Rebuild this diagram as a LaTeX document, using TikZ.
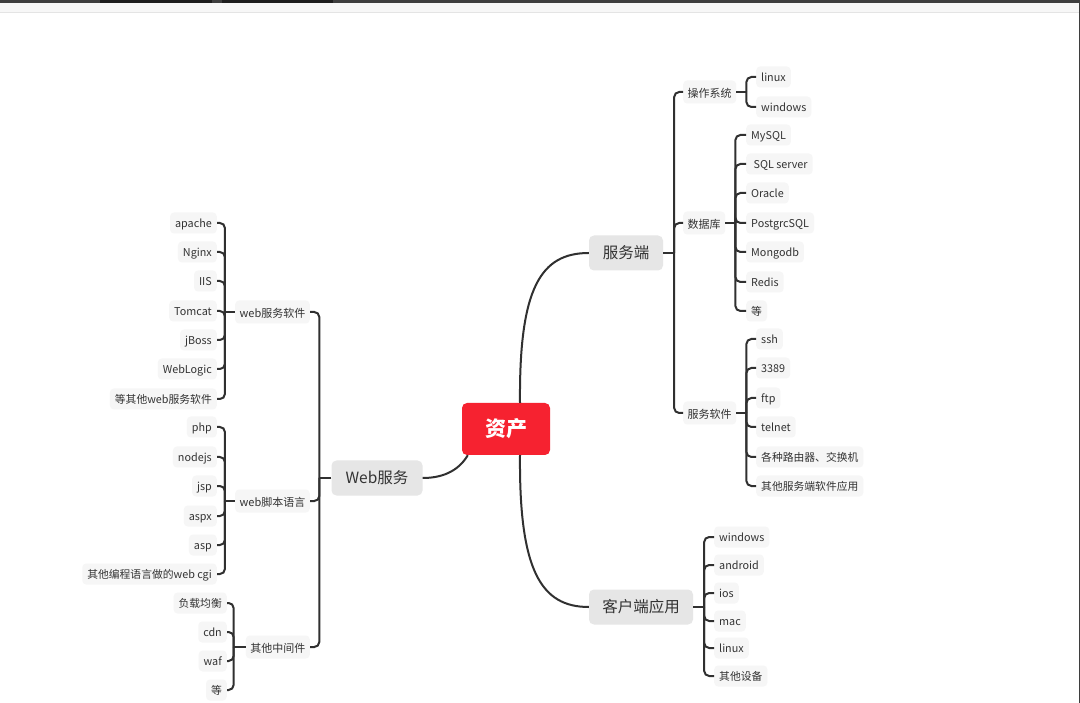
\documentclass[tikz,border=0pt]{standalone}
\usepackage{fontspec}
\setmainfont{Noto Sans CJK SC}
\usetikzlibrary{calc}
\definecolor{rootc}{RGB}{246,34,48}
\definecolor{topc}{RGB}{230,230,230}
\definecolor{leafc}{RGB}{246,246,246}
\definecolor{txt}{RGB}{51,51,51}
\definecolor{linec}{RGB}{48,48,48}
\definecolor{barc}{RGB}{62,62,62}
\definecolor{barblk}{RGB}{30,30,30}
\definecolor{bandc}{RGB}{247,247,247}
\definecolor{bandln}{RGB}{228,228,228}
\tikzset{
  leaf/.style={fill=leafc, rounded corners=4pt, inner xsep=5pt, inner ysep=0pt,
    minimum height=21pt, text=txt, font=\fontsize{10.8}{12}\selectfont,
    text height=10pt, text depth=0.5pt},
  midnode/.style={leaf, minimum height=23pt, inner xsep=4.5pt, font=\fontsize{11}{13}\selectfont,
    text height=10.5pt, text depth=0.3pt},
  topnode/.style={fill=topc, rounded corners=5pt, inner xsep=13pt, inner ysep=0pt,
    minimum height=35pt, text=txt, font=\fontsize{15.5}{18}\selectfont,
    text height=13.5pt, text depth=1.7pt},
  rootnode/.style={fill=rootc, rounded corners=5pt, minimum width=88pt, minimum height=52pt,
    text=white, font=\fontsize{21}{24}\selectfont\bfseries, inner sep=0pt},
  con/.style={draw=linec, line width=2pt},
  bar/.style={con, rounded corners=5pt},
}
\begin{document}
\begin{tikzpicture}[x=1pt,y=-1pt]
\useasboundingbox (0,0) rectangle (1080,703);
\fill[white] (0,0) rectangle (1080,703);
% screenshot frame
\fill[bandc] (0,3.5) rectangle (1080,12);
\draw[bandln, line width=0.8pt] (0,12.5) -- (1080,12.5);
\fill[barc] (0,0) rectangle (1080,3.5);
\fill[barblk] (100,0) rectangle (212,3.5);
\fill[barblk] (222,0) rectangle (333,3.5);
\fill[barc] (1078.5,0) rectangle (1080,703);

% root and first level
\node[rootnode] (root) at (506,429) {资产};
\node[topnode, minimum width=74pt] (srv) at (626,253) {服务端};
\node[topnode, minimum width=104pt] (cli) at (641,607) {客户端应用};
\node[topnode, minimum width=91pt] (web) at (377,478) {Web服务};

\coordinate (r1) at ($(root.north)+(14,0)$);
\coordinate (r2) at ($(root.south)+(14,0)$);
\coordinate (r3) at ($(root.south west)+(6,0)$);
\draw[con] (r1) .. controls ($(r1)+(-1,-115)$) and ($(srv.west)+(-48,0)$) .. (srv.west);
\draw[con] (r2) .. controls ($(r2)+(-1,115)$) and ($(cli.west)+(-48,0)$) .. (cli.west);
\draw[con] (r3) .. controls ($(r3)+(-10,17)$) and ($(web.east)+(18,0)$) .. (web.east);

% ---------- right: 服务端 ----------
\node[midnode, anchor=west] (os) at (683,92) {操作系统};
\node[midnode, anchor=west] (db) at (683,223) {数据库};
\node[midnode, anchor=west] (sw) at (683,413) {服务软件};
\coordinate (jsrv) at ($(srv.east)+(11,0)$);
\draw[con] (srv.east) -- (jsrv);
\foreach \n in {os,db,sw} \draw[bar] (jsrv) |- (\n.west);

% 操作系统
\node[leaf, anchor=west] (os1) at (756,77) {linux};
\node[leaf, anchor=west] (os2) at (756,107) {windows};
\coordinate (jos) at ($(os.east)+(10,0)$);
\draw[con] (os.east) -- (jos);
\foreach \n in {os1,os2} \draw[bar] (jos) |- (\n.west);

% 数据库
\node[leaf, anchor=west] (db1) at (746,135) {MySQL};
\node[leaf, anchor=west] (db2) at (746,164) {\ SQL server};
\node[leaf, anchor=west] (db3) at (746,193) {Oracle};
\node[leaf, anchor=west] (db4) at (746,223) {PostgrcSQL};
\node[leaf, anchor=west] (db5) at (746,252) {Mongodb};
\node[leaf, anchor=west] (db6) at (746,282) {Redis};
\node[leaf, anchor=west] (db7) at (746,311) {等};
\coordinate (jdb) at ($(db.east)+(10,0)$);
\draw[con] (db.east) -- (jdb);
\foreach \n in {db1,db2,db3,db4,db5,db6,db7} \draw[bar] (jdb) |- (\n.west);

% 服务软件
\node[leaf, anchor=west] (sw1) at (756,339) {ssh};
\node[leaf, anchor=west] (sw2) at (756,368) {3389};
\node[leaf, anchor=west] (sw3) at (756,398) {ftp};
\node[leaf, anchor=west] (sw4) at (756,427) {telnet};
\node[leaf, anchor=west] (sw5) at (756,457) {各种路由器、交换机};
\node[leaf, anchor=west] (sw6) at (756,486) {其他服务端软件应用};
\coordinate (jsw) at ($(sw.east)+(10,0)$);
\draw[con] (sw.east) -- (jsw);
\foreach \n in {sw1,sw2,sw3,sw4,sw5,sw6} \draw[bar] (jsw) |- (\n.west);

% ---------- right: 客户端应用 ----------
\node[leaf, anchor=west] (c1) at (714,537) {windows};
\node[leaf, anchor=west] (c2) at (714,565) {android};
\node[leaf, anchor=west] (c3) at (714,593) {ios};
\node[leaf, anchor=west] (c4) at (714,621) {mac};
\node[leaf, anchor=west] (c5) at (714,648) {linux};
\node[leaf, anchor=west] (c6) at (714,676) {其他设备};
\coordinate (jcli) at ($(cli.east)+(11,0)$);
\draw[con] (cli.east) -- (jcli);
\foreach \n in {c1,c2,c3,c4,c5,c6} \draw[bar] (jcli) |- (\n.west);

% ---------- left: Web服务 ----------
\node[midnode, anchor=east] (ws) at (310,312) {web服务软件};
\node[midnode, anchor=east] (wl) at (310,501) {web脚本语言};
\node[midnode, anchor=east] (wm) at (310,647) {其他中间件};
\coordinate (jweb) at ($(web.west)+(-12,0)$);
\draw[con] (web.west) -- (jweb);
\foreach \n in {ws,wl,wm} \draw[bar] (jweb) |- (\n.east);

% web服务软件
\node[leaf, anchor=east] (ws1) at (217,223) {apache};
\node[leaf, anchor=east] (ws2) at (217,252) {Nginx};
\node[leaf, anchor=east] (ws3) at (217,281) {IIS};
\node[leaf, anchor=east] (ws4) at (217,311) {Tomcat};
\node[leaf, anchor=east] (ws5) at (217,340) {jBoss};
\node[leaf, anchor=east] (ws6) at (217,369) {WebLogic};
\node[leaf, anchor=east] (ws7) at (217,399) {等其他web服务软件};
\coordinate (jws) at ($(ws.west)+(-10,0)$);
\draw[con] (ws.west) -- (jws);
\foreach \n in {ws1,ws2,ws3,ws4,ws5,ws6,ws7} \draw[bar] (jws) |- (\n.east);

% web脚本语言
\node[leaf, anchor=east] (wl1) at (217,427) {php};
\node[leaf, anchor=east] (wl2) at (217,457) {nodejs};
\node[leaf, anchor=east] (wl3) at (217,486) {jsp};
\node[leaf, anchor=east] (wl4) at (217,516) {aspx};
\node[leaf, anchor=east] (wl5) at (217,545) {asp};
\node[leaf, anchor=east] (wl6) at (217,574) {其他编程语言做的web cgi};
\coordinate (jwl) at ($(wl.west)+(-10,0)$);
\draw[con] (wl.west) -- (jwl);
\foreach \n in {wl1,wl2,wl3,wl4,wl5,wl6} \draw[bar] (jwl) |- (\n.east);

% 其他中间件
\node[leaf, anchor=east] (wm1) at (227,603) {负载均衡};
\node[leaf, anchor=east] (wm2) at (227,632) {cdn};
\node[leaf, anchor=east] (wm3) at (227,661) {waf};
\node[leaf, anchor=east] (wm4) at (227,690) {等};
\coordinate (jwm) at ($(wm.west)+(-12,0)$);
\draw[con] (wm.west) -- (jwm);
\foreach \n in {wm1,wm2,wm3,wm4} \draw[bar] (jwm) |- (\n.east);
\end{tikzpicture}
\end{document}
